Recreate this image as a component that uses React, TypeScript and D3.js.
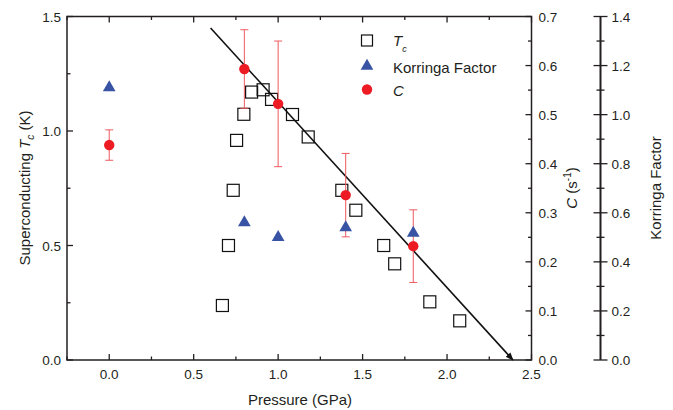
import React, { useEffect, useRef } from 'react';
import * as d3 from 'd3';

// Tc data (GPa, K)
const tcPressure = [0.67, 0.706, 0.734, 0.754, 0.797, 0.843, 0.911, 0.961, 1.085, 1.178, 1.377, 1.46, 1.625, 1.69, 1.898, 2.075];
const tcValues = [0.238, 0.50, 0.741, 0.959, 1.073, 1.17, 1.18, 1.138, 1.072, 0.974, 0.741, 0.654, 0.50, 0.42, 0.254, 0.171];

// Korringa factor
const korPressure = [0.0, 0.8, 1.0, 1.4, 1.8];
const korValues = [1.11, 0.56, 0.50, 0.54, 0.517];

// C (s^-1) with error bars
const cPressure = [0.0, 0.8, 1.0, 1.4, 1.8];
const cValues = [0.438, 0.593, 0.522, 0.336, 0.232];
const cErrors = [0.031, 0.08, 0.128, 0.085, 0.074];

// trend line (GPa, K)
const linePressure = [0.6, 2.39];
const lineTc = [1.45, 0.0];

const xTicks = [0, 0.5, 1.0, 1.5, 2.0, 2.5];
const yTicks = [0, 0.5, 1.0, 1.5];
const cTicks = [0, 0.1, 0.2, 0.3, 0.4, 0.5, 0.6, 0.7];
const korTicks = [0, 0.2, 0.4, 0.6, 0.8, 1.0, 1.2, 1.4];

const FONT = 'Liberation Sans, Arial, sans-serif';
const TEXT = '#231f20';
const RED = '#ed1c24';
const BLUE = '#3953a4';

export default function App() {
    const ref = useRef<SVGSVGElement>(null);

    useEffect(() => {
        let svg = d3.select(ref.current);
        svg.selectAll('*').remove();

        let left = 67, right = 531.5, top = 16.5, bottom = 360;
        let korX = 600.5;
        let tickSize = 13.5, titleSize = 15;

        let x = d3.scaleLinear().domain([-0.25, 2.5]).range([left, right]);
        let y = d3.scaleLinear().domain([0, 1.5]).range([bottom, top]);
        let yC = d3.scaleLinear().domain([0, 0.7]).range([bottom, top]);
        let yK = d3.scaleLinear().domain([0, 1.4]).range([bottom, top]);

        let g = svg.append('g').attr('font-family', FONT).attr('fill', TEXT);

        // frame ticks (all inward)
        let minor = (ticks: number[], step: number) => ticks.slice(0, -1).map(t => t + step / 2);
        let tickLine = (x1: number, y1: number, x2: number, y2: number) =>
            g.append('line').attr('x1', x1).attr('y1', y1).attr('x2', x2).attr('y2', y2)
                .attr('stroke', TEXT).attr('stroke-width', 1.3);

        let xMinor = [-0.25].concat(minor(xTicks, 0.5));
        xTicks.forEach(t => {
            tickLine(x(t), bottom, x(t), bottom - 6);
            tickLine(x(t), top, x(t), top + 6);
        });
        xMinor.forEach(t => {
            tickLine(x(t), bottom, x(t), bottom - 3.5);
            tickLine(x(t), top, x(t), top + 3.5);
        });
        yTicks.forEach(t => tickLine(left, y(t), left + 6, y(t)));
        minor(yTicks, 0.5).forEach(t => tickLine(left, y(t), left + 3.5, y(t)));
        cTicks.forEach(t => tickLine(right, yC(t), right - 6, yC(t)));
        minor(cTicks, 0.1).forEach(t => tickLine(right, yC(t), right - 3.5, yC(t)));

        // frame
        g.append('rect').attr('x', left).attr('y', top).attr('width', right - left).attr('height', bottom - top)
            .attr('fill', 'none').attr('stroke', TEXT).attr('stroke-width', 1.5);

        // tick labels
        g.append('g').selectAll('text').data(xTicks).enter().append('text')
            .attr('x', d => x(d)).attr('y', bottom + 19).attr('text-anchor', 'middle')
            .attr('font-size', tickSize).text(d => d.toFixed(1));
        g.append('g').selectAll('text').data(yTicks).enter().append('text')
            .attr('x', left - 6).attr('y', d => y(d) + 5).attr('text-anchor', 'end')
            .attr('font-size', tickSize).text(d => d.toFixed(1));
        g.append('g').selectAll('text').data(cTicks).enter().append('text')
            .attr('x', right + 7).attr('y', d => yC(d) + 5)
            .attr('font-size', tickSize).text(d => d.toFixed(1));

        // korringa axis
        tickLine(korX, yK(0), korX, yK(1.4)).attr('stroke-width', 2);
        korTicks.forEach(t => tickLine(korX - 7, yK(t), korX + 7, yK(t)));
        minor(korTicks, 0.2).forEach(t => tickLine(korX - 4, yK(t), korX + 4, yK(t)));
        g.append('g').selectAll('text').data(korTicks).enter().append('text')
            .attr('x', korX + 11).attr('y', d => yK(d) + 5)
            .attr('font-size', tickSize).text(d => d.toFixed(1));

        // axis titles
        g.append('text').attr('x', 300).attr('y', 405).attr('text-anchor', 'middle')
            .attr('font-size', titleSize).text('Pressure (GPa)');

        let tl = g.append('text').attr('transform', 'translate(30,188) rotate(-90)')
            .attr('text-anchor', 'middle').attr('font-size', titleSize);
        tl.append('tspan').text('Superconducting ');
        tl.append('tspan').attr('font-style', 'italic').text('T');
        tl.append('tspan').attr('font-style', 'italic').attr('font-size', 10).attr('dy', 4).text('c');
        tl.append('tspan').attr('dy', -4).text(' (K)');

        let cl = g.append('text').attr('transform', 'translate(577,188) rotate(-90)')
            .attr('text-anchor', 'middle').attr('font-size', titleSize);
        cl.append('tspan').attr('font-style', 'italic').text('C');
        cl.append('tspan').text(' (s');
        cl.append('tspan').attr('font-size', 10).attr('dy', -6).text('-1');
        cl.append('tspan').attr('dy', 6).text(')');

        g.append('text').attr('transform', 'translate(661,188) rotate(-90)')
            .attr('text-anchor', 'middle').attr('font-size', titleSize).text('Korringa Factor');

        // trend line with arrow
        svg.append('defs').append('marker').attr('id', 'arr')
            .attr('viewBox', '0 0 10 10').attr('refX', 9).attr('refY', 5)
            .attr('markerWidth', 5).attr('markerHeight', 5).attr('orient', 'auto')
            .append('path').attr('d', 'M0,1 L10,5 L0,9 Z').attr('fill', '#111');
        g.append('line')
            .attr('x1', x(linePressure[0])).attr('y1', y(lineTc[0]))
            .attr('x2', x(linePressure[1])).attr('y2', y(lineTc[1]))
            .attr('stroke', '#111').attr('stroke-width', 1.6).attr('marker-end', 'url(#arr)');

        // Tc squares
        g.append('g').selectAll('rect').data(tcPressure).enter().append('rect')
            .attr('x', (d, i) => x(d) - 6).attr('y', (d, i) => y(tcValues[i]) - 6)
            .attr('width', 12).attr('height', 12)
            .attr('fill', 'none').attr('stroke', '#111').attr('stroke-width', 1.2);

        // error bars for C
        let eb = g.append('g').attr('stroke', '#ee5a60').attr('stroke-width', 1);
        cPressure.forEach((p, i) => {
            let cx = x(p);
            let y1 = yC(cValues[i] + cErrors[i]), y2 = yC(cValues[i] - cErrors[i]);
            eb.append('line').attr('x1', cx).attr('x2', cx).attr('y1', y1).attr('y2', y2);
            eb.append('line').attr('x1', cx - 4).attr('x2', cx + 4).attr('y1', y1).attr('y2', y1);
            eb.append('line').attr('x1', cx - 4).attr('x2', cx + 4).attr('y1', y2).attr('y2', y2);
        });

        // korringa triangles
        let tri = d3.symbol().type(d3.symbolTriangle).size(70);
        g.append('g').selectAll('path').data(korPressure).enter().append('path')
            .attr('d', tri())
            .attr('transform', (d, i) => 'translate(' + x(d) + ',' + yK(korValues[i]) + ')')
            .attr('fill', BLUE);

        // C circles
        g.append('g').selectAll('circle').data(cPressure).enter().append('circle')
            .attr('cx', d => x(d)).attr('cy', (d, i) => yC(cValues[i])).attr('r', 5.2)
            .attr('fill', RED);

        // legend
        let lg = g.append('g');
        lg.append('rect').attr('x', 361.5).attr('y', 35).attr('width', 11).attr('height', 11)
            .attr('fill', 'none').attr('stroke', '#111').attr('stroke-width', 1.2);
        let lt = lg.append('text').attr('x', 393).attr('y', 46).attr('font-size', titleSize);
        lt.append('tspan').attr('font-style', 'italic').text('T');
        lt.append('tspan').attr('font-style', 'italic').attr('font-size', 9).attr('dy', 6).text('c');
        lg.append('path').attr('d', tri()).attr('transform', 'translate(367,66)').attr('fill', BLUE);
        lg.append('text').attr('x', 393).attr('y', 73).attr('font-size', titleSize).text('Korringa Factor');
        lg.append('circle').attr('cx', 367).attr('cy', 89.5).attr('r', 5.2).attr('fill', RED);
        lg.append('text').attr('x', 393).attr('y', 96).attr('font-size', titleSize)
            .attr('font-style', 'italic').text('C');
    }, []);

    return (
        <svg ref={ref} width={673} height={410}
            style={{ position: 'absolute', left: 0, top: 0, background: '#fff' }} />
    );
}
